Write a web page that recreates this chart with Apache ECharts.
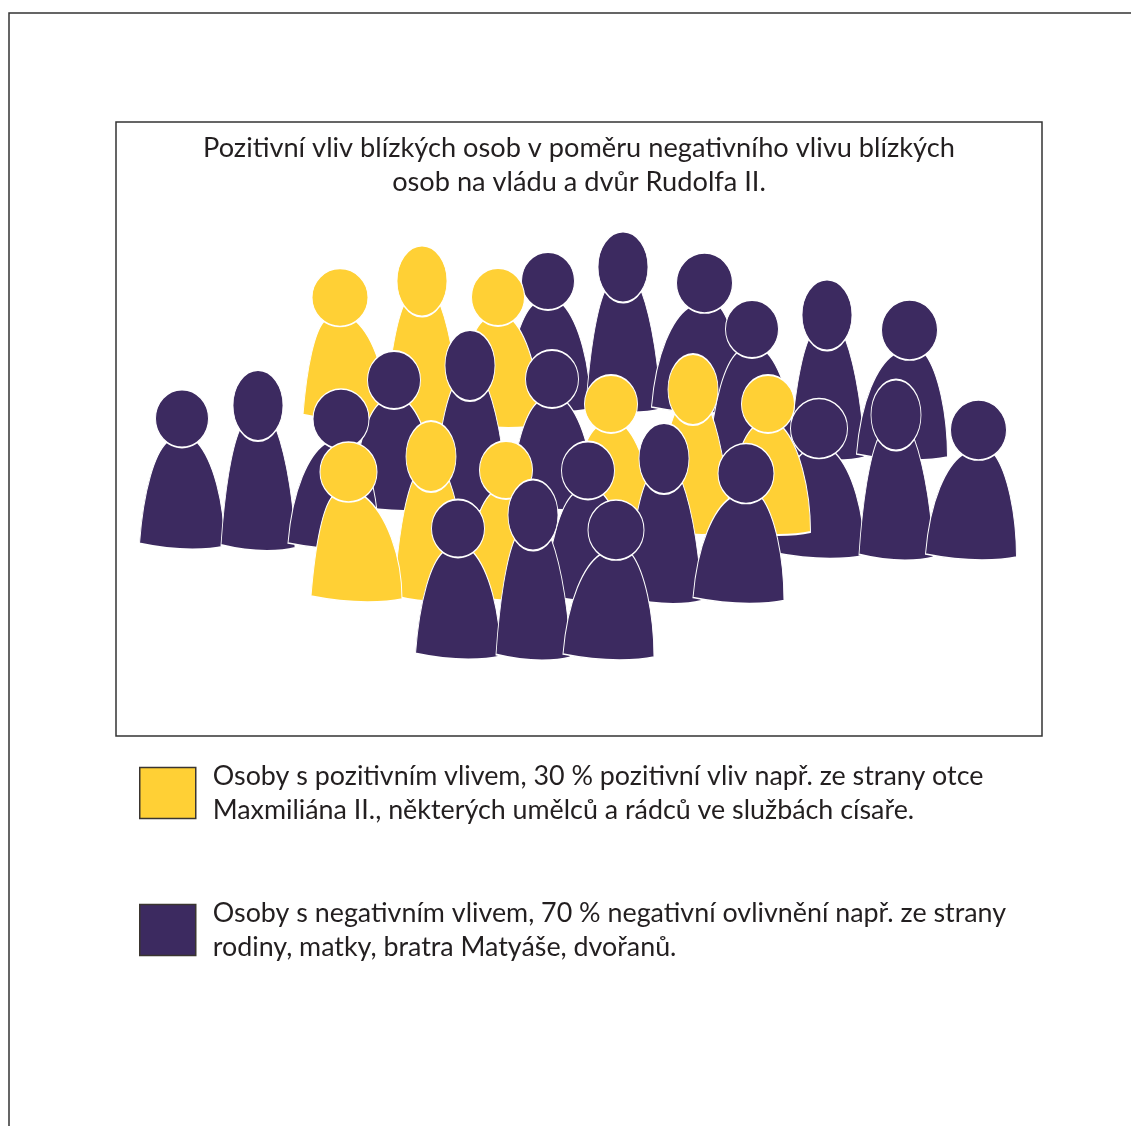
<!DOCTYPE html>
<html><head><meta charset="utf-8">
<style>html,body{margin:0;padding:0;background:#fff}#c{width:1131px;height:1126px}</style>
<script src="https://cdn.jsdelivr.net/npm/echarts@6/dist/echarts.min.js"></script>
</head><body><div id="c"></div>
<script>
const titleText = 'Pozitivní vliv blízkých osob v poměru negativního vlivu blízkých\nosob na vládu a dvůr Rudolfa II.';
const positiveName = 'Osoby s pozitivním vlivem, 30 % pozitivní vliv např. ze strany otce\nMaxmiliána II., některých umělců a rádců ve službách císaře.';
const negativeName = 'Osoby s negativním vlivem, 70 % negativní ovlivnění např. ze strany\nrodiny, matky, bratra Matyáše, dvořanů.';

// One entry per person, listed back to front.
const personX = [345,422,548,498,623,697,752,827,902,819,896,971,394,470,552,182,258,333.5,611,693,768,506,431,356.5,664,588,738.5,458,533,608.5];
const personY = [344.5,336,332,348,322,333,380,370,380,478.5,470,480,431,420.5,430,469.5,460.5,469,455,444.5,455,521,511.5,522,513.5,521.5,523.5,579.5,570,580];
const personGroup = ['P','P','N','P','N','N','N','N','N','N','N','N','N','N','N','N','N','N','P','P','P','P','P','P','N','N','N','N','N','N'];
const personKind = ['backL','tall','small','small','tall','skewR','small','tall','skewR','round','tall','skewR','small','tall','small','small','tall','skewR','small','tall','small','small','tall','skewL','tall','small','skewR','small','tall','skewR'];

const bell = {t:0.82, s:[0.1,0.42,0.55,0.16]};
const slim = {t:0.68, s:[0.15,0.49,0.66,0.23]};
const kinds = {
  round: {w:91,h:160,rx:28.5,ry:30,hx:45.5,shape:bell},
  small: {w:85,h:160,rx:26.5,ry:29,hx:42.5,shape:bell},
  tall:  {w:74,h:181,rx:25,ry:35.5,hx:37,shape:slim},
  skewR: {w:91,h:160,rx:28,ry:30,hx:53,shape:bell},
  skewL: {w:91,h:160,rx:28.5,ry:30,hx:37.5,shape:bell},
  backL: {w:84,h:152,rx:28,ry:29,hx:37,shape:bell}
};
const colors = {P:'#FFD035', N:'#3C2A60'};
const names = {P:positiveName, N:negativeName};

function figurePath(k){
  const t = k.shape.t, s = k.shape.s;
  const dy = k.ry*t, dx = k.rx*Math.sqrt(1-t*t);
  const ny = k.ry+dy, lx = k.hx-dx, rx = k.hx+dx;
  const b = k.h, w = k.w, d = b-ny;
  return 'path://M'+lx+','+ny
    +' C'+(lx*0.58)+','+(ny+d*s[0])+' '+(w*0.05)+','+(ny+d*s[1])+' 0,'+(b-6)
    +' C'+(w*0.22)+','+(b-2)+' '+(w*0.42)+','+b+' '+(w*0.62)+','+b
    +' C'+(w*0.78)+','+b+' '+(w*0.9)+','+(b-1)+' '+w+','+(b-3)
    +' C'+w+','+(ny+d*s[2])+' '+(rx+(w-rx)*0.56)+','+(ny+d*s[3])+' '+rx+','+ny
    +' A'+k.rx+','+k.ry+' 0 0 1 '+lx+','+ny+' Z'
    +' M'+(k.hx-k.rx)+','+k.ry
    +' A'+k.rx+','+k.ry+' 0 1 0 '+(k.hx+k.rx)+','+k.ry
    +' A'+k.rx+','+k.ry+' 0 1 0 '+(k.hx-k.rx)+','+k.ry+' Z';
}
const paths = {};
Object.keys(kinds).forEach(n => paths[n] = figurePath(kinds[n]));

// Consecutive people of one group share a series, so the stacking order is kept.
const series = [];
personX.forEach((x,i) => {
  const g = personGroup[i];
  if(!series.length || series[series.length-1]._g !== g){
    series.push({_g:g, type:'scatter', name:names[g], silent:true, animation:false,
      itemStyle:{color:colors[g], borderColor:'#fff', borderWidth:1.3, opacity:1}, data:[]});
  }
  const k = kinds[personKind[i]];
  series[series.length-1].data.push({value:[x,personY[i]], symbol:paths[personKind[i]], symbolSize:[k.w,k.h], symbolKeepAspect:false});
});
series.forEach(s => delete s._g);

const font = 'Lato, sans-serif';
const chart = echarts.init(document.getElementById('c'), null, {renderer:'canvas'});
chart.setOption({
  animation:false,
  backgroundColor:'#fff',
  title:{text:titleText, left:574, top:126, textAlign:'center',
    textStyle:{fontFamily:font, fontSize:27.2, fontWeight:'normal', color:'#231F20', lineHeight:34}},
  grid:{left:0,right:0,top:0,bottom:0},
  xAxis:{type:'value',min:0,max:1131,show:false},
  yAxis:{type:'value',min:0,max:1126,inverse:true,show:false},
  legend:{orient:'vertical', left:134, top:752, itemWidth:56, itemHeight:51, itemGap:65,
    icon:'rect', selectedMode:false, data:[positiveName,negativeName],
    itemStyle:{borderColor:'#3a3530',borderWidth:1.5},
    textStyle:{fontFamily:font, fontSize:26.85, color:'#231F20', lineHeight:34, padding:[4,0,0,12]}},
  graphic:[
    {type:'rect',silent:true,z:-1,shape:{x:116,y:122,width:926,height:614},style:{fill:'none',stroke:'#333',lineWidth:1.5}},
    {type:'polyline',silent:true,z:-1,shape:{points:[[9,1126],[9,13],[1131,13]]},style:{fill:'none',stroke:'#333',lineWidth:1.5}}
  ],
  series:series
});
</script></body></html>
